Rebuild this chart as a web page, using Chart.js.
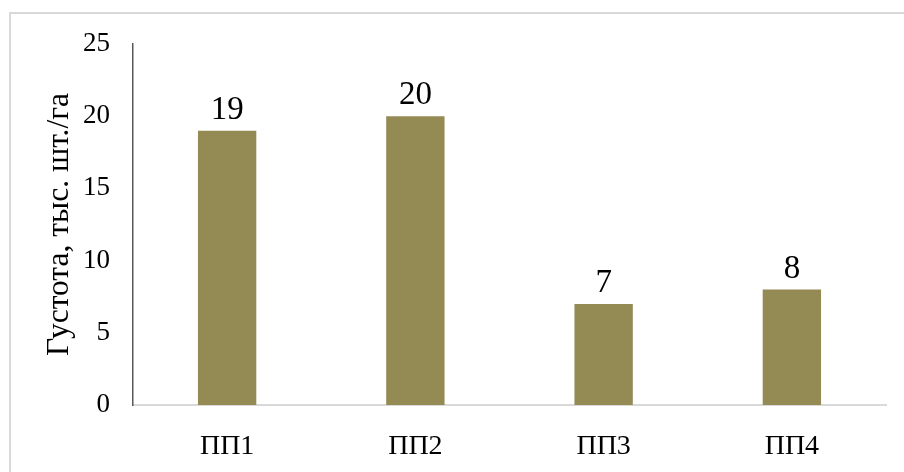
<!DOCTYPE html>
<html>
<head>
<meta charset="utf-8">
<script src="https://cdn.jsdelivr.net/npm/chart.js@4/dist/chart.umd.min.js"></script>
<style>
  html, body { margin: 0; padding: 0; background: #fff; }
  #wrap { position: relative; width: 904px; height: 472px; overflow: hidden; }
  #frame { position: absolute; left: 9px; top: 12px; width: 1000px; height: 1000px;
           border-left: 2px solid #d9d9d9; border-top: 2px solid #d9d9d9; box-sizing: border-box; }
  canvas { position: absolute; left: 0; top: 0; }
</style>
</head>
<body>
<div id="wrap">
  <div id="frame"></div>
  <canvas id="c" width="904" height="472"></canvas>
</div>
<script>
// Plots (пробные площади) and stand density, thousand trees per hectare
const categories = ['ПП1', 'ПП2', 'ПП3', 'ПП4'];
const density = [19, 20, 7, 8];
const yTicks = [0, 5, 10, 15, 20, 25];
const yTitle = 'Густота, тыс. шт./га';

const SERIF = '"Liberation Serif", "Times New Roman", serif';

// Value labels above each bar
const barValueLabels = {
  id: 'barValueLabels',
  afterDatasetsDraw(chart) {
    const ctx = chart.ctx;
    const meta = chart.getDatasetMeta(0);
    ctx.save();
    ctx.font = '33px ' + SERIF;
    ctx.fillStyle = '#000';
    ctx.textAlign = 'center';
    ctx.textBaseline = 'bottom';
    meta.data.forEach((bar, i) => {
      ctx.fillText(String(chart.data.datasets[0].data[i]), bar.x, bar.y - 4);
    });
    ctx.restore();
  }
};

new Chart(document.getElementById('c'), {
  type: 'bar',
  data: {
    labels: categories,
    datasets: [{
      data: density,
      backgroundColor: '#948a54',
      borderWidth: 0,
      barPercentage: 0.31,
      categoryPercentage: 1
    }]
  },
  options: {
    responsive: false,
    animation: false,
    devicePixelRatio: 1,
    layout: { padding: { left: 0, right: 18, top: 44, bottom: 0 } },
    plugins: { legend: { display: false }, tooltip: { enabled: false } },
    scales: {
      x: {
        grid: { display: false, drawTicks: false },
        border: { color: '#d9d9d9', width: 2 },
        ticks: { color: '#000', font: { family: SERIF, size: 28 }, padding: 25 },
        afterFit(scale) { scale.height = 67; }
      },
      y: {
        min: 0,
        max: 25,
        afterBuildTicks(scale) { scale.ticks = yTicks.map(v => ({ value: v })); },
        grid: { display: false, drawTicks: false },
        border: { color: '#595959', width: 1.5 },
        ticks: { color: '#000', font: { family: SERIF, size: 27 }, padding: 23 },
        title: {
          display: true,
          text: yTitle,
          color: '#000',
          font: { family: SERIF, size: 31.5 },
          padding: { top: 41, bottom: 0 }
        },
        afterFit(scale) { scale.width = 133; }
      }
    }
  },
  plugins: [barValueLabels]
});
</script>
</body>
</html>
